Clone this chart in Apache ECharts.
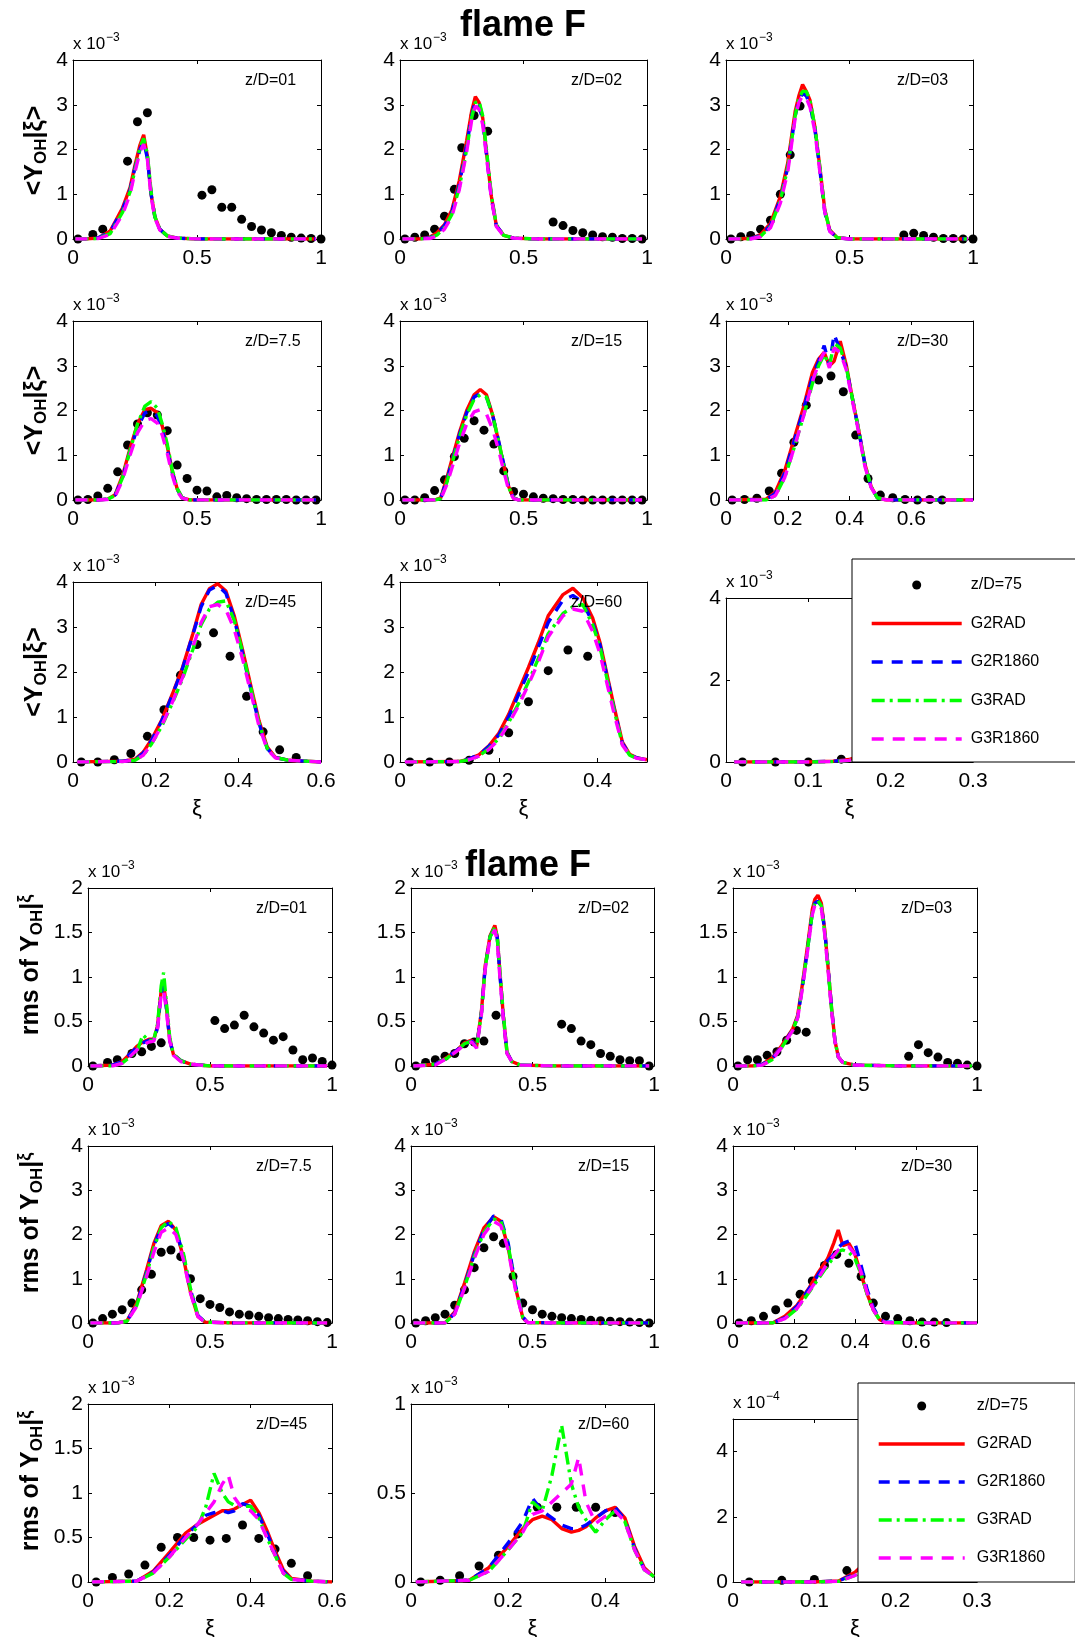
<!DOCTYPE html>
<html><head><meta charset="utf-8">
<script src="https://cdn.jsdelivr.net/npm/echarts@6/dist/echarts.min.js"></script>
<style>html,body{margin:0;padding:0;background:#fff}#c{width:1075px;height:1637px}</style>
</head><body><div id="c"></div>
<script>
// ===================== DATA (values in units of the axis multiplier) =====================
// ---- mean <Y_OH|xi>, x10^-3 ----
const expXi_m01 = [0.02,0.08,0.12,0.22,0.26,0.30,0.52,0.56,0.60,0.64,0.68,0.72,0.76,0.80,0.84,0.88,0.92,0.96,1.00];
const exp_m01   = [0,0.1,0.22,1.74,2.62,2.82,0.98,1.10,0.71,0.71,0.44,0.28,0.2,0.14,0.08,0.04,0.02,0.01,0];
const xi_m01    = [0.01,0.05,0.1,0.15,0.2,0.23,0.25,0.27,0.285,0.30,0.315,0.33,0.35,0.38,0.42,0.5,0.6,0.7,0.8,0.9,0.98];
const g2rad_m01   = [0,0,0.02,0.18,0.7,1.15,1.65,2.1,2.33,1.85,1.0,0.5,0.22,0.07,0.02,0,0,0,0,0,0];
const g2r1860_m01 = [0,0,0.02,0.16,0.66,1.1,1.6,2.0,2.18,1.8,1.0,0.5,0.22,0.07,0.02,0,0,0,0,0,0];
const g3rad_m01   = [0,0,0.01,0.12,0.6,1.05,1.55,2.05,2.25,1.9,1.05,0.5,0.22,0.07,0.02,0,0,0,0,0,0];
const g3r1860_m01 = [0,0,0.01,0.1,0.55,1.0,1.5,1.95,2.12,1.78,0.95,0.47,0.2,0.06,0.02,0,0,0,0,0,0];

const expXi_m02 = [0.02,0.06,0.10,0.14,0.18,0.22,0.25,0.30,0.355,0.62,0.66,0.70,0.74,0.78,0.82,0.86,0.90,0.94,0.98];
const exp_m02   = [0,0.04,0.09,0.22,0.51,1.11,2.04,2.76,2.41,0.38,0.30,0.19,0.14,0.09,0.05,0.04,0.01,0.01,0];
const xi_m02    = [0.01,0.08,0.12,0.15,0.18,0.21,0.24,0.27,0.29,0.305,0.32,0.335,0.35,0.37,0.39,0.42,0.46,0.55,0.7,0.85,0.98];
const g2rad_m02   = [0,0,0.04,0.14,0.32,0.65,1.3,2.2,2.85,3.18,3.05,2.7,1.95,0.95,0.3,0.08,0.02,0,0,0,0];
const g2r1860_m02 = [0,0,0.03,0.12,0.3,0.6,1.22,2.1,2.75,3.08,3.0,2.65,1.9,0.92,0.3,0.08,0.02,0,0,0,0];
const g3rad_m02   = [0,0,0.02,0.09,0.25,0.55,1.15,2.0,2.7,3.05,3.08,2.75,2.0,0.98,0.32,0.08,0.02,0,0,0,0];
const g3r1860_m02 = [0,0,0.01,0.07,0.22,0.5,1.1,1.95,2.65,2.97,2.9,2.55,1.85,0.9,0.28,0.07,0.02,0,0,0,0];

const expXi_m03 = [0.02,0.06,0.10,0.14,0.18,0.22,0.26,0.30,0.72,0.76,0.80,0.84,0.88,0.92,0.96,1.00];
const exp_m03   = [0,0.05,0.08,0.22,0.42,1.0,1.88,2.97,0.09,0.13,0.08,0.04,0.01,0.01,0,0];
const xi_m03    = [0.01,0.1,0.14,0.18,0.22,0.25,0.28,0.295,0.31,0.325,0.34,0.36,0.38,0.40,0.42,0.45,0.5,0.6,0.7,0.8,0.9,0.98];
const g2rad_m03   = [0,0.01,0.1,0.35,0.95,1.7,2.85,3.2,3.45,3.3,3.1,2.5,1.6,0.65,0.2,0.03,0,0,0,0,0,0];
const g2r1860_m03 = [0,0.01,0.08,0.3,0.9,1.6,2.75,3.1,3.25,3.2,3.0,2.45,1.55,0.6,0.18,0.03,0,0,0,0,0,0];
const g3rad_m03   = [0,0,0.06,0.28,0.85,1.6,2.75,3.15,3.3,3.3,3.1,2.5,1.6,0.65,0.2,0.03,0,0,0,0,0,0];
const g3r1860_m03 = [0,0,0.05,0.25,0.8,1.5,2.7,3.05,3.2,3.15,2.95,2.4,1.5,0.6,0.17,0.03,0,0,0,0,0,0];

const expXi_m075 = [0.02,0.06,0.10,0.14,0.18,0.22,0.26,0.30,0.34,0.38,0.42,0.46,0.50,0.54,0.58,0.62,0.66,0.70,0.74,0.78,0.82,0.86,0.90,0.94,0.98];
const exp_m075   = [0,0.01,0.09,0.26,0.63,1.23,1.70,1.95,1.9,1.55,0.78,0.48,0.22,0.2,0.07,0.1,0.05,0.03,0.01,0.01,0.01,0.01,0,0,0];
const xi_m075    = [0.01,0.1,0.14,0.17,0.2,0.23,0.26,0.29,0.315,0.34,0.36,0.38,0.40,0.42,0.44,0.47,0.55,0.7,0.85,0.98];
const g2rad_m075   = [0,0,0.02,0.12,0.55,1.15,1.7,2.02,2.05,1.95,1.65,1.2,0.65,0.25,0.05,0,0,0,0,0];
const g2r1860_m075 = [0,0,0.02,0.11,0.5,1.1,1.62,1.95,1.98,1.88,1.58,1.15,0.62,0.24,0.05,0,0,0,0,0];
const g3rad_m075   = [0,0,0.02,0.1,0.5,1.1,1.7,2.1,2.2,2.05,1.7,1.25,0.68,0.26,0.05,0,0,0,0,0];
const g3r1860_m075 = [0,0,0.01,0.08,0.45,1.0,1.5,1.78,1.82,1.72,1.45,1.05,0.56,0.2,0.04,0,0,0,0,0];

const expXi_m15 = [0.02,0.06,0.10,0.14,0.18,0.22,0.26,0.30,0.34,0.38,0.42,0.46,0.50,0.54,0.58,0.62,0.66,0.70,0.74,0.78,0.82,0.86,0.90,0.94,0.98];
const exp_m15   = [0,0,0.05,0.21,0.45,0.97,1.38,1.77,1.56,1.25,0.65,0.19,0.13,0.07,0.04,0.03,0.01,0.01,0,0,0,0,0,0,0];
const xi_m15    = [0.01,0.14,0.165,0.19,0.215,0.24,0.27,0.30,0.325,0.35,0.375,0.40,0.42,0.44,0.46,0.48,0.6,0.8,0.98];
const g2rad_m15   = [0,0,0.05,0.5,1.0,1.5,2.0,2.35,2.47,2.35,1.9,1.28,0.78,0.3,0.05,0,0,0,0];
const g2r1860_m15 = [0,0,0.04,0.45,0.95,1.45,1.95,2.3,2.38,2.3,1.9,1.3,0.8,0.3,0.05,0,0,0,0];
const g3rad_m15   = [0,0,0.03,0.4,0.9,1.4,1.9,2.25,2.35,2.3,1.9,1.3,0.78,0.28,0.04,0,0,0,0];
const g3r1860_m15 = [0,0,0.02,0.35,0.8,1.25,1.7,1.97,2.02,1.92,1.58,1.1,0.65,0.22,0.03,0,0,0,0];

const expXi_m30 = [0.02,0.06,0.10,0.14,0.18,0.22,0.26,0.30,0.34,0.38,0.42,0.46,0.50,0.54,0.58,0.62,0.66,0.70];
const exp_m30   = [0,0.01,0.04,0.2,0.6,1.29,2.12,2.68,2.77,2.42,1.45,0.48,0.11,0.05,0.01,0,0.01,0];
const xi_m30    = [0.01,0.13,0.16,0.19,0.22,0.25,0.28,0.30,0.318,0.335,0.35,0.37,0.39,0.41,0.43,0.45,0.47,0.49,0.52,0.6,0.7,0.8];
const g2rad_m30   = [0,0.02,0.18,0.65,1.35,2.05,2.85,3.15,3.3,3.0,3.1,3.55,3.0,2.25,1.55,0.8,0.3,0.05,0,0,0,0];
const g2r1860_m30 = [0,0.01,0.15,0.6,1.3,2.0,2.75,3.1,3.45,3.0,3.7,3.35,2.95,2.25,1.55,0.8,0.3,0.05,0,0,0,0];
const g3rad_m30   = [0,0,0.1,0.5,1.15,1.85,2.6,3.0,3.25,3.0,3.5,3.4,2.95,2.25,1.55,0.8,0.3,0.05,0,0,0,0];
const g3r1860_m30 = [0,0,0.1,0.5,1.15,1.85,2.65,3.05,3.3,2.95,3.4,3.3,2.9,2.2,1.5,0.75,0.28,0.05,0,0,0,0];

const expXi_m45 = [0.02,0.06,0.10,0.14,0.18,0.22,0.26,0.30,0.34,0.38,0.42,0.46,0.50,0.54];
const exp_m45   = [0,0,0.05,0.19,0.57,1.16,1.93,2.61,2.87,2.35,1.46,0.67,0.27,0.1];
const xi_m45    = [0.01,0.12,0.15,0.17,0.19,0.215,0.24,0.265,0.29,0.31,0.33,0.35,0.37,0.39,0.41,0.43,0.45,0.47,0.49,0.52,0.56,0.6];
const g2rad_m45   = [0,0.02,0.06,0.22,0.5,0.94,1.5,2.1,2.85,3.5,3.85,3.96,3.8,3.25,2.5,1.7,0.92,0.33,0.1,0.04,0.02,0];
const g2r1860_m45 = [0,0.02,0.05,0.2,0.48,0.92,1.48,2.08,2.83,3.45,3.82,3.92,3.75,3.18,2.42,1.62,0.86,0.3,0.1,0.04,0.02,0];
const g3rad_m45   = [0,0.01,0.04,0.15,0.4,0.8,1.3,1.85,2.5,3.05,3.4,3.55,3.58,3.15,2.45,1.65,0.86,0.3,0.1,0.04,0.02,0];
const g3r1860_m45 = [0,0.01,0.04,0.15,0.4,0.82,1.32,1.88,2.55,3.1,3.45,3.5,3.38,2.95,2.3,1.55,0.8,0.28,0.09,0.04,0.02,0];

const expXi_m60 = [0.02,0.06,0.10,0.14,0.18,0.22,0.26,0.30,0.34,0.38];
const exp_m60   = [0,0,0,0.04,0.26,0.65,1.34,2.03,2.49,2.35];
const xi_m60    = [0.01,0.12,0.14,0.16,0.18,0.2,0.22,0.24,0.26,0.28,0.30,0.33,0.35,0.37,0.39,0.405,0.42,0.435,0.45,0.465,0.48,0.5];
const g2rad_m60   = [0,0.01,0.07,0.16,0.36,0.64,1.06,1.58,2.1,2.65,3.25,3.72,3.86,3.65,3.2,2.65,1.9,1.15,0.45,0.17,0.09,0.05];
const g2r1860_m60 = [0,0.01,0.07,0.16,0.35,0.6,1.0,1.5,2.0,2.55,3.1,3.6,3.7,3.55,3.1,2.6,1.85,1.1,0.42,0.16,0.09,0.05];
const g3rad_m60   = [0,0.01,0.05,0.13,0.3,0.52,0.88,1.3,1.78,2.3,2.85,3.3,3.45,3.5,3.05,2.55,1.8,1.08,0.4,0.15,0.08,0.05];
const g3r1860_m60 = [0,0.01,0.05,0.13,0.28,0.5,0.85,1.25,1.72,2.22,2.78,3.25,3.4,3.35,2.9,2.4,1.7,1.0,0.38,0.15,0.08,0.05];

const expXi_m75 = [0.02,0.06,0.10,0.14,0.18,0.22];
const exp_m75   = [0,0,0,0.07,0.3,0.8];
const xi_m75    = [0.01,0.05,0.1,0.13,0.15,0.18,0.22,0.26,0.3];
const g2rad_m75   = [0,0,0,0.02,0.06,0.3,0.9,1.8,2.9];
const g2r1860_m75 = [0,0,0,0.02,0.05,0.28,0.85,1.7,2.8];
const g3rad_m75   = [0,0,0,0.01,0.04,0.22,0.7,1.5,2.5];
const g3r1860_m75 = [0,0,0,0.01,0.04,0.22,0.7,1.5,2.5];

// ---- rms of Y_OH|xi ----
const expXi_r01 = [0.02,0.08,0.12,0.18,0.22,0.26,0.30,0.52,0.56,0.60,0.64,0.68,0.72,0.76,0.80,0.84,0.88,0.92,0.96,1.00];
const exp_r01   = [0,0.04,0.07,0.14,0.16,0.22,0.26,0.51,0.42,0.46,0.57,0.44,0.37,0.29,0.33,0.18,0.07,0.09,0.05,0.01];
const xi_r01    = [0.01,0.1,0.14,0.17,0.2,0.225,0.25,0.27,0.285,0.3,0.31,0.32,0.335,0.35,0.38,0.42,0.5,0.7,0.9,0.98];
const g2rad_r01   = [0,0.01,0.05,0.13,0.22,0.27,0.3,0.3,0.45,0.85,0.93,0.7,0.3,0.13,0.06,0.02,0,0,0,0];
const g2r1860_r01 = [0,0.01,0.05,0.13,0.21,0.26,0.29,0.29,0.43,0.82,0.9,0.68,0.29,0.13,0.06,0.02,0,0,0,0];
const g3rad_r01   = [0,0,0.03,0.1,0.16,0.35,0.28,0.3,0.47,0.9,1.05,0.75,0.32,0.13,0.06,0.02,0,0,0,0];
const g3r1860_r01 = [0,0,0.03,0.1,0.18,0.24,0.27,0.28,0.42,0.8,0.85,0.65,0.28,0.12,0.05,0.02,0,0,0,0];

const expXi_r02 = [0.02,0.06,0.10,0.14,0.18,0.22,0.26,0.30,0.35,0.62,0.66,0.70,0.74,0.78,0.82,0.86,0.90,0.94,0.98];
const exp_r02   = [0,0.04,0.07,0.11,0.14,0.25,0.27,0.28,0.57,0.47,0.42,0.28,0.24,0.14,0.11,0.07,0.06,0.06,0];
const xi_r02    = [0.01,0.1,0.15,0.19,0.22,0.25,0.27,0.29,0.305,0.325,0.345,0.355,0.365,0.38,0.395,0.415,0.45,0.6,0.8,0.98];
const g2rad_r02   = [0,0.02,0.1,0.18,0.26,0.29,0.22,0.62,1.12,1.46,1.58,1.45,1.08,0.56,0.15,0.05,0.01,0,0,0];
const g2r1860_r02 = [0,0.02,0.1,0.18,0.25,0.28,0.22,0.6,1.1,1.45,1.56,1.44,1.06,0.55,0.15,0.05,0.01,0,0,0];
const g3rad_r02   = [0,0.02,0.09,0.17,0.25,0.28,0.21,0.6,1.1,1.45,1.56,1.45,1.1,0.58,0.16,0.05,0.01,0,0,0];
const g3r1860_r02 = [0,0.01,0.09,0.17,0.24,0.27,0.2,0.58,1.08,1.43,1.53,1.4,1.03,0.53,0.14,0.05,0.01,0,0,0];

const expXi_r03 = [0.02,0.06,0.10,0.14,0.18,0.22,0.26,0.30,0.72,0.76,0.80,0.84,0.88,0.92,0.96,1.00];
const exp_r03   = [0,0.07,0.07,0.12,0.16,0.29,0.40,0.38,0.11,0.24,0.15,0.10,0.04,0.03,0.01,0];
const xi_r03    = [0.01,0.08,0.12,0.16,0.2,0.245,0.265,0.285,0.305,0.325,0.335,0.348,0.362,0.376,0.39,0.404,0.418,0.432,0.45,0.5,0.7,0.98];
const g2rad_r03   = [0,0,0.02,0.09,0.23,0.42,0.57,0.93,1.34,1.76,1.87,1.92,1.83,1.53,1.1,0.65,0.28,0.1,0.04,0.01,0,0];
const g2r1860_r03 = [0,0,0.02,0.08,0.22,0.41,0.55,0.9,1.3,1.72,1.83,1.85,1.8,1.52,1.1,0.65,0.28,0.1,0.04,0.01,0,0];
const g3rad_r03   = [0,0,0.01,0.07,0.21,0.4,0.55,0.9,1.3,1.72,1.83,1.86,1.8,1.5,1.08,0.64,0.28,0.1,0.04,0.01,0,0];
const g3r1860_r03 = [0,0,0.01,0.07,0.21,0.4,0.54,0.88,1.28,1.7,1.8,1.83,1.77,1.48,1.06,0.62,0.27,0.1,0.04,0.01,0,0];

const expXi_r075 = [0.02,0.06,0.10,0.14,0.18,0.22,0.26,0.30,0.34,0.38,0.42,0.46,0.50,0.54,0.58,0.62,0.66,0.70,0.74,0.78,0.82,0.86,0.90,0.94,0.98];
const exp_r075   = [0,0.1,0.2,0.3,0.45,0.75,1.1,1.6,1.65,1.5,1.0,0.55,0.42,0.35,0.25,0.2,0.18,0.15,0.12,0.1,0.08,0.07,0.05,0.03,0.01];
const xi_r075    = [0.01,0.12,0.16,0.2,0.24,0.27,0.3,0.33,0.36,0.39,0.42,0.45,0.48,0.6,0.8,0.98];
const g2rad_r075   = [0,0,0.05,0.45,1.2,1.8,2.2,2.3,2.1,1.5,0.7,0.15,0.02,0,0,0];
const g2r1860_r075 = [0,0,0.05,0.42,1.15,1.75,2.15,2.25,2.1,1.55,0.75,0.17,0.02,0,0,0];
const g3rad_r075   = [0,0,0.04,0.4,1.1,1.7,2.15,2.3,2.15,1.6,0.78,0.18,0.02,0,0,0];
const g3r1860_r075 = [0,0,0.04,0.38,1.05,1.6,2.05,2.15,2.0,1.45,0.68,0.15,0.02,0,0,0];

const expXi_r15 = [0.02,0.06,0.10,0.14,0.18,0.22,0.26,0.30,0.34,0.38,0.42,0.46,0.50,0.54,0.58,0.62,0.66,0.70,0.74,0.78,0.82,0.86,0.90,0.94,0.98];
const exp_r15   = [0,0.05,0.12,0.2,0.4,0.75,1.25,1.7,1.95,1.8,1.05,0.45,0.3,0.2,0.15,0.12,0.1,0.08,0.06,0.05,0.04,0.03,0.02,0.01,0];
const xi_r15    = [0.01,0.14,0.18,0.22,0.26,0.3,0.34,0.37,0.4,0.43,0.46,0.48,0.6,0.8,0.98];
const g2rad_r15   = [0,0,0.25,0.9,1.6,2.15,2.4,2.3,1.7,0.8,0.12,0.01,0,0,0];
const g2r1860_r15 = [0,0,0.22,0.85,1.55,2.1,2.42,2.35,1.8,0.85,0.14,0.01,0,0,0];
const g3rad_r15   = [0,0,0.2,0.8,1.5,2.05,2.35,2.3,1.75,0.82,0.13,0.01,0,0,0];
const g3r1860_r15 = [0,0,0.2,0.78,1.45,2.0,2.3,2.2,1.65,0.75,0.11,0.01,0,0,0];

const expXi_r30 = [0.02,0.06,0.10,0.14,0.18,0.22,0.26,0.30,0.34,0.38,0.42,0.46,0.50,0.54,0.58,0.62,0.66,0.70];
const exp_r30   = [0,0.05,0.15,0.3,0.45,0.65,0.95,1.3,1.55,1.35,1.05,0.45,0.15,0.1,0.05,0.02,0.02,0.01];
const xi_r30    = [0.01,0.13,0.17,0.21,0.25,0.28,0.31,0.33,0.345,0.36,0.38,0.40,0.42,0.44,0.46,0.48,0.5,0.6,0.8];
const g2rad_r30   = [0,0,0.15,0.4,0.8,1.15,1.45,1.8,2.1,1.75,1.8,1.55,1.1,0.65,0.3,0.08,0.01,0,0];
const g2r1860_r30 = [0,0,0.12,0.38,0.78,1.1,1.4,1.55,1.7,1.8,1.85,1.8,1.3,0.75,0.35,0.1,0.02,0,0];
const g3rad_r30   = [0,0,0.1,0.32,0.7,1.0,1.3,1.48,1.62,1.65,1.6,1.45,1.1,0.65,0.3,0.08,0.01,0,0];
const g3r1860_r30 = [0,0,0.1,0.33,0.72,1.02,1.35,1.52,1.65,1.7,1.72,1.55,1.15,0.68,0.3,0.08,0.01,0,0];

const expXi_r45 = [0.02,0.06,0.10,0.14,0.18,0.22,0.26,0.30,0.34,0.38,0.42,0.46,0.50,0.54];
const exp_r45   = [0,0.05,0.09,0.19,0.39,0.5,0.5,0.47,0.49,0.64,0.49,0.37,0.21,0.07];
const xi_r45    = [0.01,0.12,0.16,0.2,0.24,0.27,0.29,0.31,0.33,0.345,0.36,0.38,0.40,0.42,0.44,0.46,0.48,0.5,0.55,0.6];
const g2rad_r45   = [0,0.01,0.12,0.33,0.55,0.65,0.7,0.75,0.8,0.8,0.82,0.87,0.92,0.78,0.58,0.35,0.14,0.04,0.01,0];
const g2r1860_r45 = [0,0.01,0.11,0.3,0.52,0.65,0.75,0.78,0.8,0.78,0.8,0.88,0.85,0.75,0.55,0.32,0.12,0.03,0.01,0];
const g3rad_r45   = [0,0.01,0.1,0.28,0.48,0.62,0.85,1.22,1.0,0.9,0.86,0.85,0.85,0.72,0.5,0.3,0.1,0.03,0.01,0];
const g3r1860_r45 = [0,0.01,0.1,0.28,0.5,0.65,0.78,0.9,1.1,1.2,0.95,0.82,0.8,0.7,0.5,0.3,0.1,0.03,0.01,0];

const expXi_r60 = [0.02,0.06,0.10,0.14,0.18,0.22,0.26,0.30,0.34,0.38,0.42];
const exp_r60   = [0,0.01,0.035,0.09,0.15,0.27,0.42,0.42,0.42,0.42,0.39];
const xi_r60    = [0.01,0.12,0.16,0.2,0.23,0.25,0.27,0.29,0.31,0.33,0.345,0.36,0.38,0.40,0.42,0.44,0.46,0.48,0.5];
const g2rad_r60   = [0,0.01,0.08,0.2,0.3,0.35,0.37,0.35,0.3,0.28,0.29,0.31,0.36,0.4,0.42,0.36,0.2,0.08,0.03];
const g2r1860_r60 = [0,0.01,0.08,0.22,0.34,0.47,0.4,0.36,0.32,0.3,0.3,0.32,0.36,0.4,0.42,0.35,0.19,0.07,0.03];
const g3rad_r60   = [0,0.01,0.06,0.18,0.28,0.45,0.4,0.6,0.88,0.55,0.42,0.35,0.28,0.35,0.4,0.34,0.18,0.07,0.03];
const g3r1860_r60 = [0,0.01,0.06,0.18,0.28,0.38,0.4,0.45,0.5,0.55,0.7,0.45,0.33,0.37,0.4,0.34,0.18,0.07,0.03];

// rms at z/D=75, x10^-4
const expXi_r75 = [0.02,0.06,0.10,0.14];
const exp_r75   = [0,0.05,0.08,0.35];
const xi_r75    = [0.01,0.05,0.1,0.13,0.15,0.18,0.22,0.26,0.3];
const g2rad_r75   = [0,0,0,0.03,0.3,1.0,2.0,3.2,4.2];
const g2r1860_r75 = [0,0,0,0.03,0.25,0.9,1.9,3.1,4.1];
const g3rad_r75   = [0,0,0,0.02,0.2,0.8,1.8,3.0,4.0];
const g3r1860_r75 = [0,0,0,0.02,0.2,0.8,1.8,3.0,4.0];

// ===================== LAYOUT =====================
const FONT = '"Liberation Sans", Arial, Helvetica, sans-serif';
const SERIES_STYLE = [
  {name:'G2RAD',   color:'#ff0000', type:'solid'},
  {name:'G2R1860', color:'#0000ff', type:[11,9]},
  {name:'G3RAD',   color:'#00ff00', type:[13,5,3,5]},
  {name:'G3R1860', color:'#ff00ff', type:[12,9]}
];
const panels = [
  {l:73, t:60, w:248,h:179,xMax:1,xInt:0.5,yMax:4,yInt:1,ex:'−3',lab:'z/D=01',d:[expXi_m01,exp_m01,xi_m01,g2rad_m01,g2r1860_m01,g3rad_m01,g3r1860_m01]},
  {l:400,t:60, w:247,h:179,xMax:1,xInt:0.5,yMax:4,yInt:1,ex:'−3',lab:'z/D=02',d:[expXi_m02,exp_m02,xi_m02,g2rad_m02,g2r1860_m02,g3rad_m02,g3r1860_m02]},
  {l:726,t:60, w:247,h:179,xMax:1,xInt:0.5,yMax:4,yInt:1,ex:'−3',lab:'z/D=03',d:[expXi_m03,exp_m03,xi_m03,g2rad_m03,g2r1860_m03,g3rad_m03,g3r1860_m03]},
  {l:73, t:321,w:248,h:179,xMax:1,xInt:0.5,yMax:4,yInt:1,ex:'−3',lab:'z/D=7.5',d:[expXi_m075,exp_m075,xi_m075,g2rad_m075,g2r1860_m075,g3rad_m075,g3r1860_m075]},
  {l:400,t:321,w:247,h:179,xMax:1,xInt:0.5,yMax:4,yInt:1,ex:'−3',lab:'z/D=15',d:[expXi_m15,exp_m15,xi_m15,g2rad_m15,g2r1860_m15,g3rad_m15,g3r1860_m15]},
  {l:726,t:321,w:247,h:179,xMax:0.8,xInt:0.2,hideX:true,yMax:4,yInt:1,ex:'−3',lab:'z/D=30',d:[expXi_m30,exp_m30,xi_m30,g2rad_m30,g2r1860_m30,g3rad_m30,g3r1860_m30]},
  {l:73, t:582,w:248,h:180,xMax:0.6,xInt:0.2,yMax:4,yInt:1,ex:'−3',lab:'z/D=45',xName:true,d:[expXi_m45,exp_m45,xi_m45,g2rad_m45,g2r1860_m45,g3rad_m45,g3r1860_m45]},
  {l:400,t:582,w:247,h:180,xMax:0.5,xInt:0.2,hideX:true,yMax:4,yInt:1,ex:'−3',lab:'z/D=60',xName:true,d:[expXi_m60,exp_m60,xi_m60,g2rad_m60,g2r1860_m60,g3rad_m60,g3r1860_m60]},
  {l:726,t:598,w:247,h:164,xMax:0.3,xInt:0.1,yMax:4,yInt:2,ex:'−3',lab:null,legendExp:true,xName:true,d:[expXi_m75,exp_m75,xi_m75,g2rad_m75,g2r1860_m75,g3rad_m75,g3r1860_m75]},

  {l:88, t:888, w:244,h:178,xMax:1,xInt:0.5,yMax:2,yInt:0.5,ex:'−3',lab:'z/D=01',d:[expXi_r01,exp_r01,xi_r01,g2rad_r01,g2r1860_r01,g3rad_r01,g3r1860_r01]},
  {l:411,t:888, w:243,h:178,xMax:1,xInt:0.5,yMax:2,yInt:0.5,ex:'−3',lab:'z/D=02',d:[expXi_r02,exp_r02,xi_r02,g2rad_r02,g2r1860_r02,g3rad_r02,g3r1860_r02]},
  {l:733,t:888, w:244,h:178,xMax:1,xInt:0.5,yMax:2,yInt:0.5,ex:'−3',lab:'z/D=03',d:[expXi_r03,exp_r03,xi_r03,g2rad_r03,g2r1860_r03,g3rad_r03,g3r1860_r03]},
  {l:88, t:1146,w:244,h:177,xMax:1,xInt:0.5,yMax:4,yInt:1,ex:'−3',lab:'z/D=7.5',d:[expXi_r075,exp_r075,xi_r075,g2rad_r075,g2r1860_r075,g3rad_r075,g3r1860_r075]},
  {l:411,t:1146,w:243,h:177,xMax:1,xInt:0.5,yMax:4,yInt:1,ex:'−3',lab:'z/D=15',d:[expXi_r15,exp_r15,xi_r15,g2rad_r15,g2r1860_r15,g3rad_r15,g3r1860_r15]},
  {l:733,t:1146,w:244,h:177,xMax:0.8,xInt:0.2,hideX:true,yMax:4,yInt:1,ex:'−3',lab:'z/D=30',d:[expXi_r30,exp_r30,xi_r30,g2rad_r30,g2r1860_r30,g3rad_r30,g3r1860_r30]},
  {l:88, t:1404,w:244,h:178,xMax:0.6,xInt:0.2,yMax:2,yInt:0.5,ex:'−3',lab:'z/D=45',xName:true,d:[expXi_r45,exp_r45,xi_r45,g2rad_r45,g2r1860_r45,g3rad_r45,g3r1860_r45]},
  {l:411,t:1404,w:243,h:178,xMax:0.5,xInt:0.2,hideX:true,yMax:1,yInt:0.5,ex:'−3',lab:'z/D=60',xName:true,d:[expXi_r60,exp_r60,xi_r60,g2rad_r60,g2r1860_r60,g3rad_r60,g3r1860_r60]},
  {l:733,t:1419,w:244,h:163,xMax:0.3,xInt:0.1,yMax:5,yInt:2,hideY:true,ex:'−4',lab:null,legendExp:true,xName:true,d:[expXi_r75,exp_r75,xi_r75,g2rad_r75,g2r1860_r75,g3rad_r75,g3r1860_r75]}
];

const option = {
  animation:false, backgroundColor:'#fff', textStyle:{fontFamily:FONT},
  grid:[], xAxis:[], yAxis:[], series:[], graphic:[], legend:[]
};
const axisCommon = (extra)=>Object.assign({
  type:'value', min:0, splitLine:{show:false},
  axisLine:{show:true,onZero:false,lineStyle:{color:'#000',width:1}},
  axisTick:{show:true,inside:true,length:4,lineStyle:{color:'#000',width:1}}
}, extra);
const zip = (a,b)=>a.map((x,k)=>[x,b[k]]);

panels.forEach((p,i)=>{
  option.grid.push({left:p.l, top:p.t, width:p.w, height:p.h, containLabel:false, outerBoundsMode:'none', show:false});
  const lbl = {fontSize:21,color:'#000',fontFamily:FONT};
  option.xAxis.push(axisCommon({gridIndex:i, position:'bottom', max:p.xMax, interval:p.xInt,
    axisLabel:Object.assign({margin:9, showMaxLabel:p.hideX?false:null, hideOverlap:false}, lbl),
    name:p.xName?'ξ':'', nameLocation:'middle', nameGap:36,
    nameTextStyle:{fontSize:22,color:'#000',fontFamily:FONT}}));
  option.xAxis.push(axisCommon({gridIndex:i, position:'top', max:p.xMax, interval:p.xInt, axisLabel:{show:false}}));
  option.yAxis.push(axisCommon({gridIndex:i, position:'left', max:p.yMax, interval:p.yInt,
    axisLabel:Object.assign({margin:5, showMaxLabel:p.hideY?false:null, hideOverlap:false}, lbl)}));
  option.yAxis.push(axisCommon({gridIndex:i, position:'right', max:p.yMax, interval:p.yInt, axisLabel:{show:false}}));
  const [ex, ey, cx, ...curves] = p.d;
  option.series.push({type:'scatter', name:p.legendExp?'z/D=75':'exp'+i, xAxisIndex:2*i, yAxisIndex:2*i,
    data:zip(ex,ey), symbol:'circle', symbolSize:9, itemStyle:{color:'#000',opacity:1,borderWidth:0}, silent:true});
  curves.forEach((c,k)=>{
    const s = SERIES_STYLE[k];
    option.series.push({type:'line', name:s.name, xAxisIndex:2*i, yAxisIndex:2*i, data:zip(cx,c),
      symbol:'none', showSymbol:false, silent:true, itemStyle:{color:s.color},
      lineStyle:{color:s.color,width:3.4,type:s.type,opacity:1}});
  });
  // multiplier text
  option.graphic.push({type:'text', x:p.l, y:p.t-7, silent:true,
    style:{text:'x 10', fontSize:17, fontFamily:FONT, fill:'#000', align:'left', verticalAlign:'bottom'}});
  option.graphic.push({type:'text', x:p.l+33, y:p.t-16, silent:true,
    style:{text:p.ex, fontSize:12, fontFamily:FONT, fill:'#000', align:'left', verticalAlign:'bottom'}});
  if (p.lab) option.graphic.push({type:'text', x:p.l+p.w-76, y:p.t+21, z:100, silent:true,
    style:{text:p.lab, fontSize:16, fontFamily:FONT, fill:'#000', align:'left', verticalAlign:'middle'}});
});

// titles
['flame F','flame F'].forEach((t,k)=>{
  option.graphic.push({type:'text', x:k?528:523, y:k?866:26, silent:true,
    style:{text:t, fontSize:36, fontWeight:'bold', fontFamily:FONT, fill:'#000', align:'center', verticalAlign:'middle'}});
});
// y axis titles
const richY = {
  m:{fontSize:25,fontWeight:'bold',fontFamily:FONT,fill:'#000',lineHeight:30},
  s:{fontSize:17,fontWeight:'bold',fontFamily:FONT,fill:'#000',lineHeight:17,verticalAlign:'bottom'},
  p:{fontSize:18,fontWeight:'bold',fontFamily:FONT,fill:'#000',lineHeight:18,verticalAlign:'top'}
};
[150.5, 410.5, 672].forEach((cy)=>{
  option.graphic.push({type:'text', x:35, y:cy, rotation:Math.PI/2, silent:true,
    style:{text:'{m|<Y}{s|OH}{m||ξ>}', rich:richY, align:'center', verticalAlign:'middle'}});
});
[965, 1223, 1481].forEach((cy)=>{
  option.graphic.push({type:'text', x:31, y:cy, rotation:Math.PI/2, silent:true,
    style:{text:'{m|rms of Y}{s|OH}{m||}{p|ξ}', rich:richY, align:'center', verticalAlign:'middle'}});
});

// legends
const legendBase = (left, top, pad, gap, iw, tpad)=>({
  show:true, orient:'vertical', left, top, padding:pad, itemGap:gap, itemWidth:iw, itemHeight:9,
  selectedMode:false, backgroundColor:'#fff', borderColor:'#000', borderWidth:1, borderRadius:0, z:20,
  textStyle:{fontSize:16,color:'#000',fontFamily:FONT,lineHeight:18,padding:[0,0,0,tpad]},
  lineStyle:{width:3.4},
  data:[{name:'z/D=75', itemStyle:{color:'#000',opacity:1}},{name:'G2RAD',itemStyle:{opacity:0}},{name:'G2R1860',itemStyle:{opacity:0}},
        {name:'G3RAD',itemStyle:{opacity:0}},{name:'G3R1860',itemStyle:{opacity:0}}]
});
option.legend.push(legendBase(852, 559, [17,37,14,18], 20.5, 90, 4));
option.legend.push(legendBase(858, 1383, [14,30,15,19], 20, 86, 7));

const chart = echarts.init(document.getElementById('c'), null, {renderer:'canvas'});
chart.setOption(option);
</script></body></html>
